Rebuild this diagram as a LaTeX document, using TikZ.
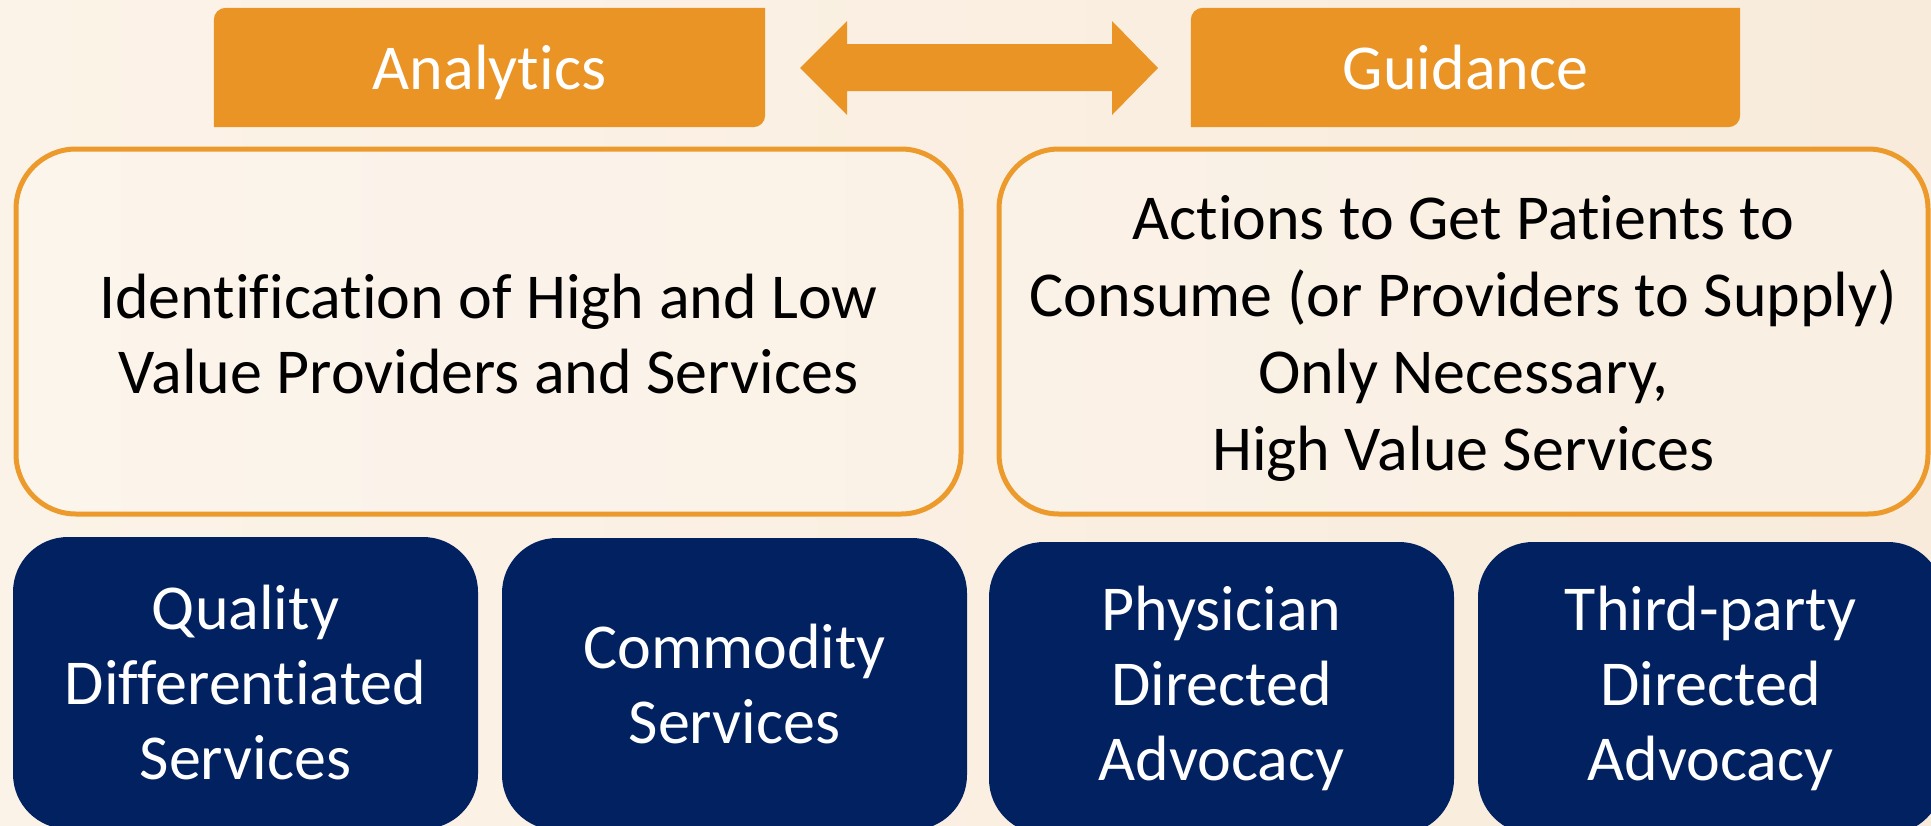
\documentclass[tikz,border=0pt]{standalone}
\usepackage{fontspec}
\setmainfont{Carlito}[Ligatures=NoCommon]
\definecolor{taborange}{RGB}{233,148,37}
\definecolor{lineorange}{RGB}{236,154,44}
\definecolor{navyblue}{RGB}{2,33,96}
\definecolor{cream}{RGB}{248,235,219}
\definecolor{creamlight}{RGB}{252,243,232}
\newcommand{\bigfont}{\fontsize{64}{75}\selectfont}
\begin{document}
\begin{tikzpicture}[x=1pt,y=-1pt,
    tab/.style={minimum width=551pt, minimum height=119pt, inner sep=0pt},
    tablabel/.style={anchor=base, inner sep=0pt, text=white, font=\bigfont},
    valuebox/.style={draw=lineorange, line width=5pt, fill=white, fill opacity=0.2,
        rounded corners=60pt, minimum height=365pt},
    boxtext/.style={align=center, font=\bigfont},
    channel/.style={fill=navyblue, text=white, rounded corners=55pt, minimum width=465pt,
        minimum height=292pt, align=center, font=\bigfont}]
    % background
    \shade[left color=creamlight, right color=cream] (0,0) rectangle (1931,825);
    \useasboundingbox (0,0) rectangle (1931,825);
    \clip (0,0) rectangle (1931,825);

    % tabs
    \node[tab] (anatab) at (489.5,67.5) {};
    \node[tab, minimum width=549pt] (guitab) at (1465.5,67.5) {};
    \foreach \t in {anatab,guitab}
        \fill[taborange] (\t.south west) -- ([yshift=-12pt]\t.north west) to[out=90,in=180] ([xshift=12pt]\t.north west)
            -- (\t.north east) -- ([yshift=12pt]\t.south east) to[out=-90,in=0] ([xshift=-12pt]\t.south east) -- cycle;
    \node[tablabel] (ana) at ([yshift=38pt]anatab.south) {Analytics};
    \node[tablabel] (gui) at ([yshift=38pt]guitab.south) {Guidance};

    % double arrow between the tabs
    \coordinate (lt) at (800,68);
    \coordinate (rt) at (1158,68);
    \fill[taborange] (lt) -- (847,21) -- (847,44) -- (1112,44) -- (1112,21) -- (rt)
        -- (1112,115) -- (1112,91) -- (847,91) -- (847,115) -- cycle;

    % middle boxes
    \node[valuebox, minimum width=945pt] (ident) at (488.5,331.5) {};
    \node[valuebox, minimum width=929pt] (acts) at (1463.5,331.5) {};
    \node[boxtext] at ([yshift=-3pt]ident.center) {Identification of High and Low\\Value Providers and Services};
    \node[boxtext, font=\fontsize{64}{77}\selectfont] at ([yshift=-7pt]acts.center)
        {Actions to Get Patients to\\Consume (or Providers to Supply)\\Only Necessary,\\High Value Services};

    % bottom boxes
    \node[channel] (qual) at (245.5,683) {Quality\\Differentiated\\Services};
    \node[channel] (comm) at (734.5,684) {Commodity\\Services};
    \node[channel] (phys) at (1221.5,688) {Physician\\Directed\\Advocacy};
    \node[channel] (third) at (1710.5,688) {Third-party\\Directed\\Advocacy};
\end{tikzpicture}
\end{document}
